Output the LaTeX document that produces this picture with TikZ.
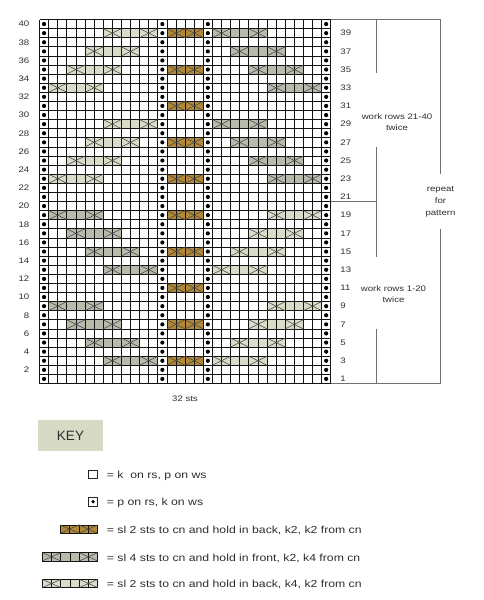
\documentclass[tikz,border=0pt]{standalone}
\usepackage{fontspec}
\setmainfont{Liberation Sans}
\newfontfamily\lab[FakeStretch=1.2]{Liberation Sans}
\definecolor{brownc}{HTML}{B08838}
\definecolor{darkc}{HTML}{B6BBAC}
\definecolor{lightc}{HTML}{D8DCC8}
\definecolor{keyc}{HTML}{D7DBC6}
\definecolor{txt}{HTML}{2E2E2E}
\definecolor{brk}{HTML}{707070}
\newcommand\cablefill[4]{\fill[#4] (#1,#2-1) rectangle ++(#3,1);}
\newcommand\cablecross[3]{\draw[xln] (#1,#2) -- ++(2,-1) (#1,#2-1) -- ++(2,1) (#1+#3,#2) -- ++(-2,-1) (#1+#3,#2-1) -- ++(-2,1);}
\begin{document}
\begin{tikzpicture}[x=1pt,y=-1pt,
  gridln/.style={line width=0.8pt, draw=black!92},
  xln/.style={line width=0.55pt, draw=black!72},
  brkt/.style={line width=0.8pt, draw=brk},
  lbl/.style={inner sep=0pt, text=txt, font={\lab\fontsize{8}{11}\selectfont}},
  keytxt/.style={inner sep=0pt, text=txt, anchor=base west, font={\lab\fontsize{10.2}{12}\selectfont}}]
\useasboundingbox (0,0) rectangle (484,600);
\fill[white] (0,0) rectangle (484,600);

\begin{scope}[shift={(39.5pt,-383.5pt)}, x=9.1pt, y=9.1pt]
 \foreach \r/\c in {3/7,5/5,7/3,9/1,13/7,15/5,17/3,19/1} {
   \pgfmathtruncatemacro\ccol{26-\c}
   \cablefill{\c}{\r}{6}{darkc}
   \cablefill{\ccol}{\r}{6}{lightc}
 }
 \foreach \r/\c in {23/1,25/3,27/5,29/7,33/1,35/3,37/5,39/7} {
   \pgfmathtruncatemacro\ccol{26-\c}
   \cablefill{\c}{\r}{6}{lightc}
   \cablefill{\ccol}{\r}{6}{darkc}
 }
 \foreach \r in {3,7,...,39} { \cablefill{14}{\r}{4}{brownc} }
 \foreach \i in {0,...,32} \draw[gridln] (\i,0) -- (\i,40);
 \foreach \j in {0,...,40} \draw[gridln] (0,\j) -- (32,\j);
 \foreach \r/\c in {3/7,5/5,7/3,9/1,13/7,15/5,17/3,19/1,23/1,25/3,27/5,29/7,33/1,35/3,37/5,39/7} {
   \pgfmathtruncatemacro\ccol{26-\c}
   \cablecross{\c}{\r}{6}
   \cablecross{\ccol}{\r}{6}
 }
 \foreach \r in {3,7,...,39} { \cablecross{14}{\r}{4} }
 \foreach \r in {1,...,40} \foreach \c in {0,13,18,31} \fill (\c+0.5,\r-0.5) circle[radius=2.1pt];
 \foreach \r in {2,4,...,40} \node[lbl, anchor=east] (L\r) at (-1.1,\r-0.5) {\r};
 \foreach \r in {1,3,...,39} \node[lbl, anchor=west] (R\r) at (33.05,\r-0.5) {\r};
\end{scope}

% brackets
\draw[brkt] (330.7,19.5) -- (440.7,19.5) -- (440.7,174);
\draw[brkt] (440.7,229.3) -- (440.7,383.5) -- (330.7,383.5);
\draw[brkt] (376.5,19.5) -- (376.5,73.3);
\draw[brkt] (376.5,146.7) -- (376.5,256.7);
\draw[brkt] (330.7,201.5) -- (376.5,201.5);
\draw[brkt] (376.5,329.3) -- (376.5,383.5);
\node[lbl, align=center] (w2) at (397,122.2) {work rows 21-40\\twice};
\node[lbl, align=center] (w1) at (393.5,293.8) {work rows 1-20\\twice};
\node[lbl, align=center, font={\lab\fontsize{8}{11.6}\selectfont}] (rep) at (440.5,201.8) {repeat\\for\\pattern};
\node[lbl] (sts) at (185,399) {32 sts};

% key
\node[fill=keyc, minimum width=64.4pt, minimum height=31pt, inner sep=0pt, text=txt, font={\fontsize{13.5}{14}\selectfont}] (key) at (70.5,435.5) {KEY};

\draw[line width=0.8pt, draw=black!85] (88.4,470) rectangle (97.7,478.3);
\node[keytxt] (k1) at (106.7,478.3) {= k~ on rs, p on ws};
\draw[line width=0.8pt, draw=black!85] (88.4,497.5) rectangle (97.7,505.9);
\fill (93.05,501.7) circle[radius=1.8pt];
\node[keytxt] (k2) at (106.7,505.9) {= p on rs, k on ws};

\begin{scope}[shift={(97.7pt,-533.3pt)}, x=9.4pt, y=8.4pt]
 \cablefill{-4}{1}{4}{brownc}
 \foreach \i in {-4,...,0} \draw[gridln] (\i,0) -- (\i,1);
 \draw[gridln] (-4,0) -- (0,0) (-4,1) -- (0,1);
 \cablecross{-4}{1}{4}
\end{scope}
\node[keytxt] (k3) at (106.7,533.3) {= sl 2 sts to cn and hold in back, k2, k2 from cn};

\begin{scope}[shift={(97.7pt,-561pt)}, x=9.23pt, y=8.4pt]
 \cablefill{-6}{1}{6}{darkc}
 \foreach \i in {-6,...,0} \draw[gridln] (\i,0) -- (\i,1);
 \draw[gridln] (-6,0) -- (0,0) (-6,1) -- (0,1);
 \cablecross{-6}{1}{6}
\end{scope}
\node[keytxt] (k4) at (106.7,561) {= sl 4 sts to cn and hold in front, k2, k4 from cn};

\begin{scope}[shift={(97.7pt,-587.7pt)}, x=9.23pt, y=8.4pt]
 \cablefill{-6}{1}{6}{lightc}
 \foreach \i in {-6,...,0} \draw[gridln] (\i,0) -- (\i,1);
 \draw[gridln] (-6,0) -- (0,0) (-6,1) -- (0,1);
 \cablecross{-6}{1}{6}
\end{scope}
\node[keytxt] (k5) at (106.7,587.7) {= sl 2 sts to cn and hold in back, k4, k2 from cn};
\end{tikzpicture}
\end{document}
